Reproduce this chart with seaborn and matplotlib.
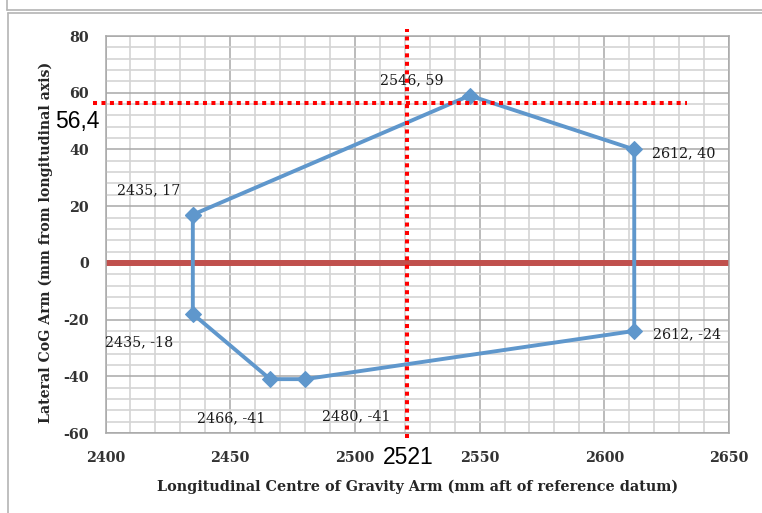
import numpy as np
import pandas as pd
import seaborn as sns
import matplotlib.pyplot as plt
from matplotlib.lines import Line2D
from matplotlib.ticker import MultipleLocator

# Envelope corner points (closed polygon)
lcg = [2435, 2546, 2612, 2612, 2480, 2466, 2435, 2435]
lat = [17, 59, 40, -24, -41, -41, -18, 17]
# label offsets (points) for each corner, and alignment
label_offsets = [(-32, 17.8), (-41.7, 11.2), (13, -2.6), (13.2, -2.2),
                 (36.6, -26.5), (-27.9, -27.9), (-38.8, -20.2)]
label_ha = ["center", "center", "left", "left", "center", "center", "center"]

cg_x = 2521
cg_y = 56.4
cg_x_text = "2521"
cg_y_text = "56,4"

sns.set_style("white")
plt.rcParams["font.family"] = ["DejaVu Serif"]
plt.rcParams["axes.unicode_minus"] = False

fig = plt.figure(figsize=(7.62, 5.13), dpi=100)
ax = fig.add_axes([0.1385, 0.1559, 0.8182, 0.7739])

df = pd.DataFrame({"lcg": lcg, "lat": lat})

ax.set_xlim(2400, 2650)
ax.set_ylim(-60, 80)
ax.xaxis.set_major_locator(MultipleLocator(50))
ax.xaxis.set_minor_locator(MultipleLocator(10))
ax.yaxis.set_major_locator(MultipleLocator(20))
ax.yaxis.set_minor_locator(MultipleLocator(4))
ax.grid(which="minor", color="#D4D4D4", lw=1.2, zorder=0)
ax.grid(which="major", color="#A8A8A8", lw=1.1, zorder=0)
ax.set_axisbelow(True)

# zero line
ax.axhline(0, color="#C0504D", lw=4.3, zorder=2)

sns.lineplot(data=df, x="lcg", y="lat", sort=False, estimator=None,
             color="#5F97CC", lw=2.8, marker="D", markersize=8,
             markeredgecolor="#5F97CC", ax=ax, zorder=3)

for i in range(len(lcg) - 1):
    ax.annotate(f"{lcg[i]}, {lat[i]}", (lcg[i], lat[i]),
                xytext=label_offsets[i], textcoords="offset points",
                ha=label_ha[i], va="center", fontsize=10.3, color="#1A1A1A")

# red dotted CG cross lines
ax.plot([2395, 2633], [cg_y, cg_y], color="red", lw=2.9,
        linestyle=(0, (1, 1.1)), dash_capstyle="butt", clip_on=False, zorder=4)
ax.plot([cg_x, cg_x], [-61.8, 82.5], color="red", lw=2.9,
        linestyle=(0, (1, 1.1)), dash_capstyle="butt", clip_on=False, zorder=4)
ax.text(2379.8, 49.7, cg_y_text, ha="left", va="center", fontsize=16.5,
        family="Liberation Sans", color="black")
ax.text(cg_x + 0.4, -68.5, cg_x_text, ha="center", va="center", fontsize=16.5,
        family="Liberation Sans", color="black")

for s in ax.spines.values():
    s.set_color("#A8A8A8")
    s.set_linewidth(1.1)

ax.tick_params(axis="y", which="major", length=5, color="#A8A8A8", pad=7)
ax.tick_params(axis="x", which="major", length=0, pad=13)
ax.tick_params(which="minor", length=0)
for lab in ax.get_xticklabels() + ax.get_yticklabels():
    lab.set_fontweight("bold")
    lab.set_fontsize(10.3)
    lab.set_color("#333333")

ax.set_xlabel("Longitudinal Centre of Gravity Arm (mm aft of reference datum)",
              fontsize=10.4, fontweight="bold")
ax.set_ylabel("Lateral CoG Arm (mm from longitudinal axis)",
              fontsize=10.2, fontweight="bold")
ax.xaxis.set_label_coords(0.5, -0.118)
ax.yaxis.set_label_coords(-0.0841, 0.48)

# outer frame lines of the surrounding chart boxes
W, H = 762, 513
frame = dict(color="#B4B4B4", lw=1.2, transform=fig.transFigure)
fig.add_artist(Line2D([7 / W, 1], [1 - 10 / H, 1 - 10 / H], **frame))
fig.add_artist(Line2D([7 / W, 7 / W], [1, 1 - 10 / H], **frame))
fig.add_artist(Line2D([8 / W, 1], [1 - 13 / H, 1 - 13 / H], **frame))
fig.add_artist(Line2D([8 / W, 8 / W], [1 - 13 / H, 0], **frame))

fig.savefig("out.png", dpi=100)
